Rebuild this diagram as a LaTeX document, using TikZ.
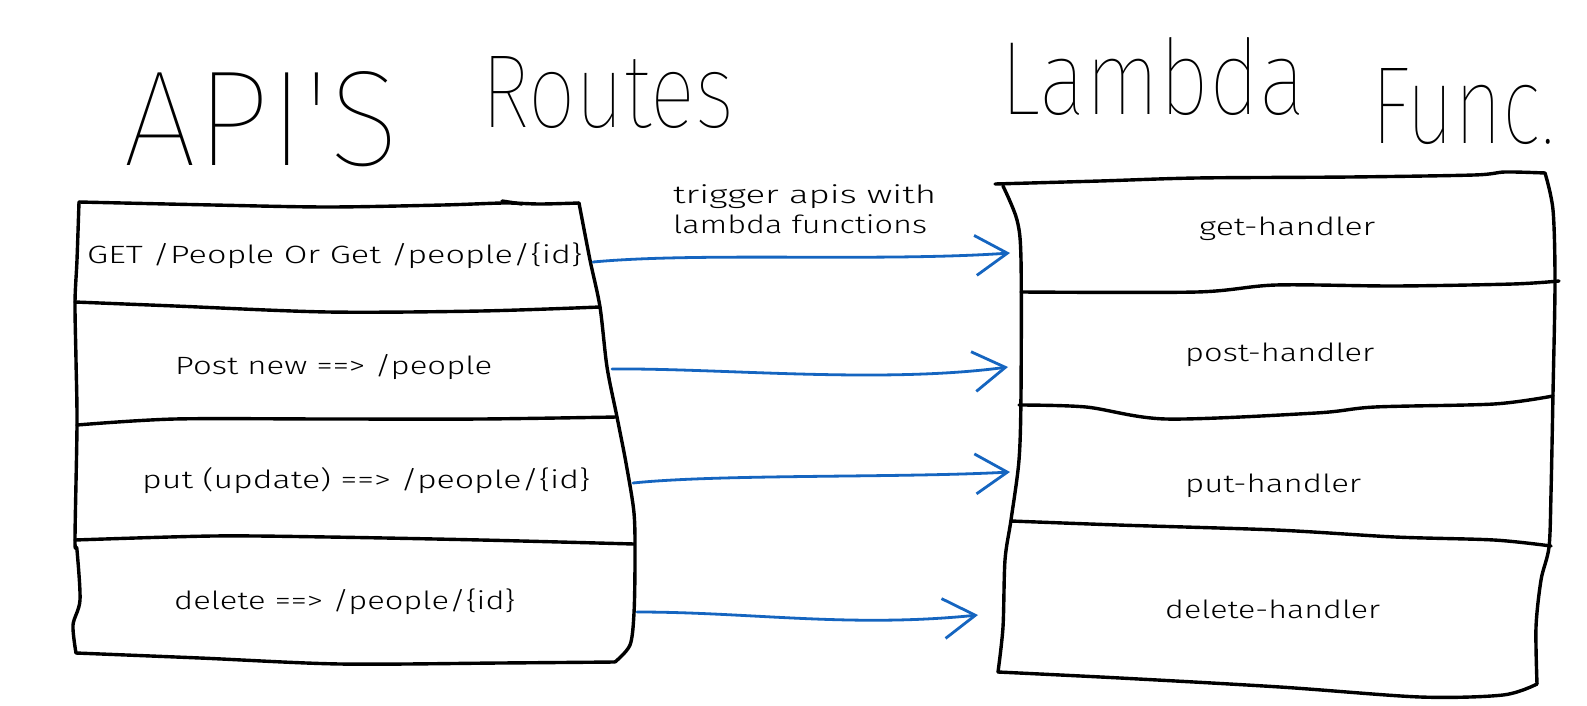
\documentclass[tikz,border=0pt]{standalone}
\usepackage{fontspec}
\usepackage{graphicx}
\usetikzlibrary{arrows.meta}
\newfontfamily\rowfont{Fira Sans Light}
\newfontfamily\titlefont{Fira Sans Thin}
\definecolor{arrblue}{RGB}{21,101,192}
\newcommand\fitw[2]{\resizebox{#1}{\height}{#2}}
\newcommand\fitwh[3]{\resizebox{#1}{#2}{#3}}
\begin{document}
\begin{tikzpicture}[x=1pt,y=-1pt,
  edge/.style={line width=3.4pt,line cap=round,line join=round},
  arr/.style={line width=2.8pt,draw=arrblue,line cap=round,line join=round,
    -{Straight Barb[length=32pt,width=40pt]}},
  rowtext/.style={inner sep=0pt,anchor=base west,font=\rowfont\fontsize{25}{30}\selectfont},
  titletext/.style={inner sep=0pt,anchor=base west,font=\titlefont\fontsize{80}{90}\selectfont},
]
\useasboundingbox (0,0) rectangle (1587,706);
\fill[white] (0,0) rectangle (1587,706);

% titles
\node[titletext] (t1) at (123,165) {\fitwh{276pt}{94pt}{API'S}};
\node[titletext] (t2) at (481,128) {\fitwh{253pt}{71pt}{Routes}};
\node[titletext] (t3) at (1000,115) {\fitwh{306pt}{77pt}{Lambda}};
\node[titletext] (t4) at (1371,143) {\fitwh{184pt}{75pt}{Func.}};

% left box
\draw[edge] plot[smooth,tension=.5] coordinates {(79,202)(213,205)(328,207)(443,205)(504,203)(540,204)(579,203)};
\draw[edge] (502,201) -- (522,204);
\draw[edge] plot[smooth,tension=.5] coordinates {(579,203)(590,260)(600,307)(607,367)(617,417)(626,463)(634,513)(635,560)(634,613)(630,645)(615,662)};
\draw[edge] plot[smooth,tension=.5] coordinates {(79,202)(77,260)(75,302)(76,360)(77,425)(75,540)(77,550)(80,600)(73,625)(76,653)};
\draw[edge] plot[smooth,tension=.5] coordinates {(76,653)(200,658)(340,664)(500,663)(615,662)};
\draw[edge] plot[smooth,tension=.5] coordinates {(75,302)(175,306)(328,312)(481,311)(600,307)};
\draw[edge] plot[smooth,tension=.5] coordinates {(77,425)(175,419)(328,419)(481,419)(617,417)};
\draw[edge] plot[smooth,tension=.5] coordinates {(75,540)(213,536)(328,537)(481,540)(634,544)};

% right box
\draw[edge] plot[smooth,tension=.5] coordinates {(995,184)(1100,181)(1197,178)(1350,177)(1474,175)(1505,172)(1545,173)};
\draw[edge] plot[smooth,tension=.5] coordinates {(1545,173)(1553,210)(1555,282)(1553,393)(1551,493)(1549,547)(1541,580)(1536,627)(1537,684)};
\draw[edge] plot[smooth,tension=.5] coordinates {(1003,186)(1017,220)(1021,260)(1021,393)(1019,460)(1011,520)(1005,560)(1003,627)(998,672)};
\draw[edge] plot[smooth,tension=.5] coordinates {(998,672)(1120,678)(1280,687)(1420,697)(1503,695)(1537,684)};
\draw[edge] plot[smooth,tension=.5] coordinates {(1021,292)(1197,292)(1276,285)(1395,286)(1513,284)(1559,281)};
\draw[edge] plot[smooth,tension=.5] coordinates {(1019,405)(1086,407)(1166,419)(1316,413)(1375,407)(1494,404)(1553,396)};
\draw[edge] plot[smooth,tension=.5] coordinates {(1011,521)(1118,525)(1276,530)(1395,537)(1494,540)(1551,546)};

% left texts
\node[rowtext] (r1) at (87,263) {\fitw{495pt}{GET /People Or Get /people/\{id\}}};
\node[rowtext] (r2) at (175,374) {\fitw{317pt}{Post new ==> /people}};
\node[rowtext] (r3) at (142,488) {\fitw{448pt}{put (update) ==> /people/\{id\}}};
\node[rowtext] (r4) at (174,609) {\fitw{341pt}{delete ==> /people/\{id\}}};

% right texts
\node[rowtext] (h1) at (1199,235) {\fitw{176pt}{get-handler}};
\node[rowtext] (h2) at (1185,361) {\fitw{189pt}{post-handler}};
\node[rowtext] (h3) at (1185,492) {\fitw{176pt}{put-handler}};
\node[rowtext] (h4) at (1165,618) {\fitw{215pt}{delete-handler}};

% label
\node[rowtext] (l1) at (673,203) {\fitw{263pt}{trigger apis with}};
\node[rowtext] (l2) at (673,233) {\fitw{254pt}{lambda functions}};

% connector ends
\coordinate (r1out) at (593,262);
\coordinate (r2out) at (612,369);
\coordinate (r3out) at (633,483);
\coordinate (r4out) at (637,612);
\coordinate (h1in) at (1010,253);
\coordinate (h2in) at (1008,367);
\coordinate (h3in) at (1010,472);
\coordinate (h4in) at (978,615);

\draw[arr] (r1out) .. controls (700,252) and (880,262) .. (h1in);
\draw[arr] (r2out) .. controls (720,368) and (880,384) .. (h2in);
\draw[arr] (r3out) .. controls (720,474) and (900,478) .. (h3in);
\draw[arr] (r4out) .. controls (750,612) and (850,628) .. (h4in);
\end{tikzpicture}
\end{document}
